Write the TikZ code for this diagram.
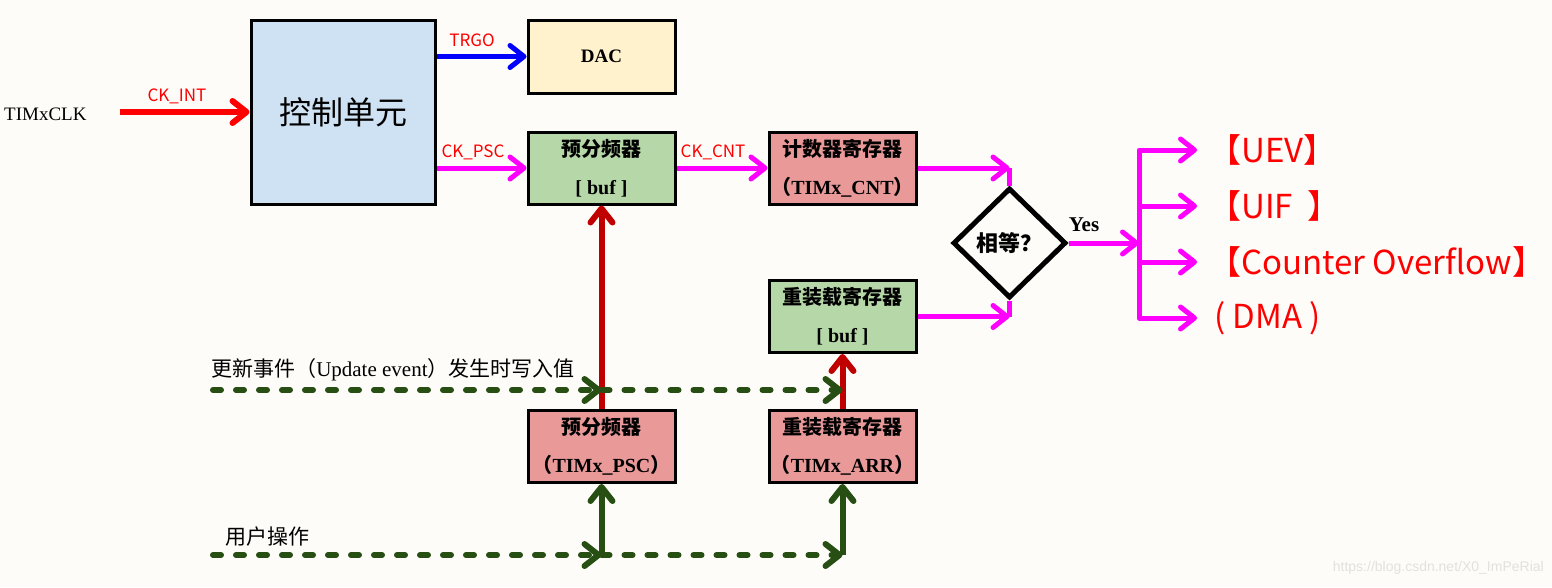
\documentclass[tikz,border=0pt]{standalone}
\usepackage{fontspec}
\setmainfont{Liberation Serif}
\newfontfamily\cjk{Noto Sans CJK SC}
\newfontfamily\wmfont{Liberation Sans}
\usetikzlibrary{arrows.meta,shapes.geometric}
\definecolor{bgcol}{RGB}{254,252,248}
\definecolor{ctrlblue}{RGB}{207,226,243}
\definecolor{dacyel}{RGB}{255,242,204}
\definecolor{bufgreen}{RGB}{182,215,168}
\definecolor{regpink}{RGB}{234,153,153}
\definecolor{darkred}{RGB}{192,0,0}
\definecolor{darkgreen}{RGB}{39,78,19}
\definecolor{mag}{RGB}{255,0,255}
\definecolor{wmgray}{RGB}{228,225,221}
\newcommand{\zh}[1]{{\cjk #1}}
\begin{document}
\begin{tikzpicture}[x=1pt,y=-1pt,line width=.5pt,
  box/.style={draw,line width=3pt,inner sep=0pt,minimum width=147pt,minimum height=72pt,align=center,font=\bfseries\fontsize{20}{38}\selectfont},
  headed/.style={-{Straight Barb[length=14pt,width=22pt,round]}},
  lbl/.style={text=red,inner sep=0pt,font=\cjk\fontsize{17}{20}\selectfont},
  bigred/.style={text=red,anchor=west,inner sep=0pt,font=\cjk\fontsize{33}{36}\selectfont},
  greendash/.style={headed,darkgreen,line width=6pt,line cap=round,dash pattern=on 8pt off 15pt}]
\fill[bgcol] (0,0) rectangle (1552,587);
\path[use as bounding box] (0,0) rectangle (1552,587);
\node[box,fill=ctrlblue,minimum width=184pt,minimum height=184pt,font=\cjk\fontsize{32}{36}\selectfont] (ctrl) at (343,112) {控制单元};
\node[box,fill=dacyel,minimum height=73pt,font=\bfseries\fontsize{19}{22}\selectfont] (dac) at (601.5,56.5) {DAC};
\node[box,fill=bufgreen] (pscbuf) at (601.5,168) {\zh{预分频器}\\{[} buf ]};
\node[box,fill=regpink] (cnt) at (842.5,168) {\zh{计数器寄存器}\\\zh{（}TIMx\_CNT\zh{）}};
\node[box,fill=bufgreen] (arrbuf) at (842.5,316.5) {\zh{重装载寄存器}\\{[} buf ]};
\node[box,fill=regpink] (psc) at (601.5,446.5) {\zh{预分频器}\\\zh{（}TIMx\_PSC\zh{）}};
\node[box,fill=regpink] (arr) at (842.5,446.5) {\zh{重装载寄存器}\\\zh{（}TIMx\_ARR\zh{）}};
\node[diamond,draw,line width=5pt,inner sep=0pt,minimum width=113pt,minimum height=110pt,font=\cjk\bfseries\fontsize{22}{24}\selectfont] (cmp) at (1009.5,243) {相等？};
\node[anchor=west,inner sep=0pt,font=\fontsize{19}{22}\selectfont] (clk) at (4,114) {TIMxCLK};
\coordinate (clkout) at (120,112);
\node[lbl] (ckintl) at (177,96) {CK\_INT};
\node[lbl] (trgol) at (472,40) {TRGO};
\node[lbl] (ckpscl) at (473,152) {CK\_PSC};
\node[lbl] (ckcntl) at (713,152) {CK\_CNT};
\draw[headed,red,line width=6pt] (clkout) -- (ctrl.west);
\draw[headed,blue,line width=5pt] (ctrl.east |- dac.west) -- (dac.west);
\draw[headed,mag,line width=5pt] (ctrl.east |- pscbuf.west) -- (pscbuf.west);
\draw[headed,mag,line width=5pt] (pscbuf.east) -- (cnt.west);
\draw[headed,mag,line width=5pt] (cnt.east) -- (cnt.east -| cmp.north);
\draw[mag,line width=5pt] (cnt.east -| cmp.north) -- (cmp.north);
\draw[headed,mag,line width=5pt] (arrbuf.east) -- (arrbuf.east -| cmp.south);
\draw[mag,line width=5pt] (arrbuf.east -| cmp.south) -- (cmp.south);
\coordinate (bus) at (1139,243);
\coordinate (tipx) at (1197,243);
\node[inner sep=0pt,font=\bfseries\fontsize{21}{24}\selectfont] (yes) at (1084,225) {Yes};
\draw[headed,mag,line width=5pt] (cmp.east) -- (bus);
\node[bigred] (uev) at (1208,150) {【UEV】};
\node[bigred] (uif) at (1208,206) {【UIF~~】};
\node[bigred] (cof) at (1208,262) {【Counter Overflow】};
\node[bigred] (dma) at (1214,318) {( DMA )};
\draw[headed,mag,line width=5pt,line join=round] (bus |- dma.west) -- (bus |- uev.west) -- (tipx |- uev.west);
\draw[headed,mag,line width=5pt] (bus |- uif.west) -- (tipx |- uif.west);
\draw[headed,mag,line width=5pt] (bus |- cof.west) -- (tipx |- cof.west);
\draw[headed,mag,line width=5pt,line join=round] (bus |- uev.west) -- (bus |- dma.west) -- (tipx |- dma.west);
\draw[headed,darkred,line width=6pt] (psc.north) -- (pscbuf.south);
\draw[headed,darkred,line width=6pt] (arr.north) -- (arrbuf.south);
\coordinate (updin) at (213,390);
\node[anchor=south west,inner sep=0pt,font=\fontsize{21}{24}\selectfont] (updl) at (211,381) {\zh{更新事件（}Update event\zh{）发生时写入值}};
\draw[greendash] (updin) -- (updin -| psc.north);
\draw[greendash] (updin -| psc.north) -- (updin -| arr.north);
\coordinate (usrin) at (213,555);
\node[anchor=south west,inner sep=0pt,font=\cjk\fontsize{21}{24}\selectfont] (usrl) at (225,547) {用户操作};
\draw[greendash] (usrin) -- (usrin -| psc.south);
\draw[greendash] (usrin -| psc.south) -- (usrin -| arr.south);
\draw[headed,darkgreen,line width=6pt] (usrin -| psc.south) -- (psc.south);
\draw[headed,darkgreen,line width=6pt] (usrin -| arr.south) -- (arr.south);
\node[anchor=east,inner sep=0pt,text=wmgray,font=\wmfont\fontsize{14}{16}\selectfont] (wm) at (1544,568) {https://blog.csdn.net/X0\_ImPeRial};
\end{tikzpicture}
\end{document}
